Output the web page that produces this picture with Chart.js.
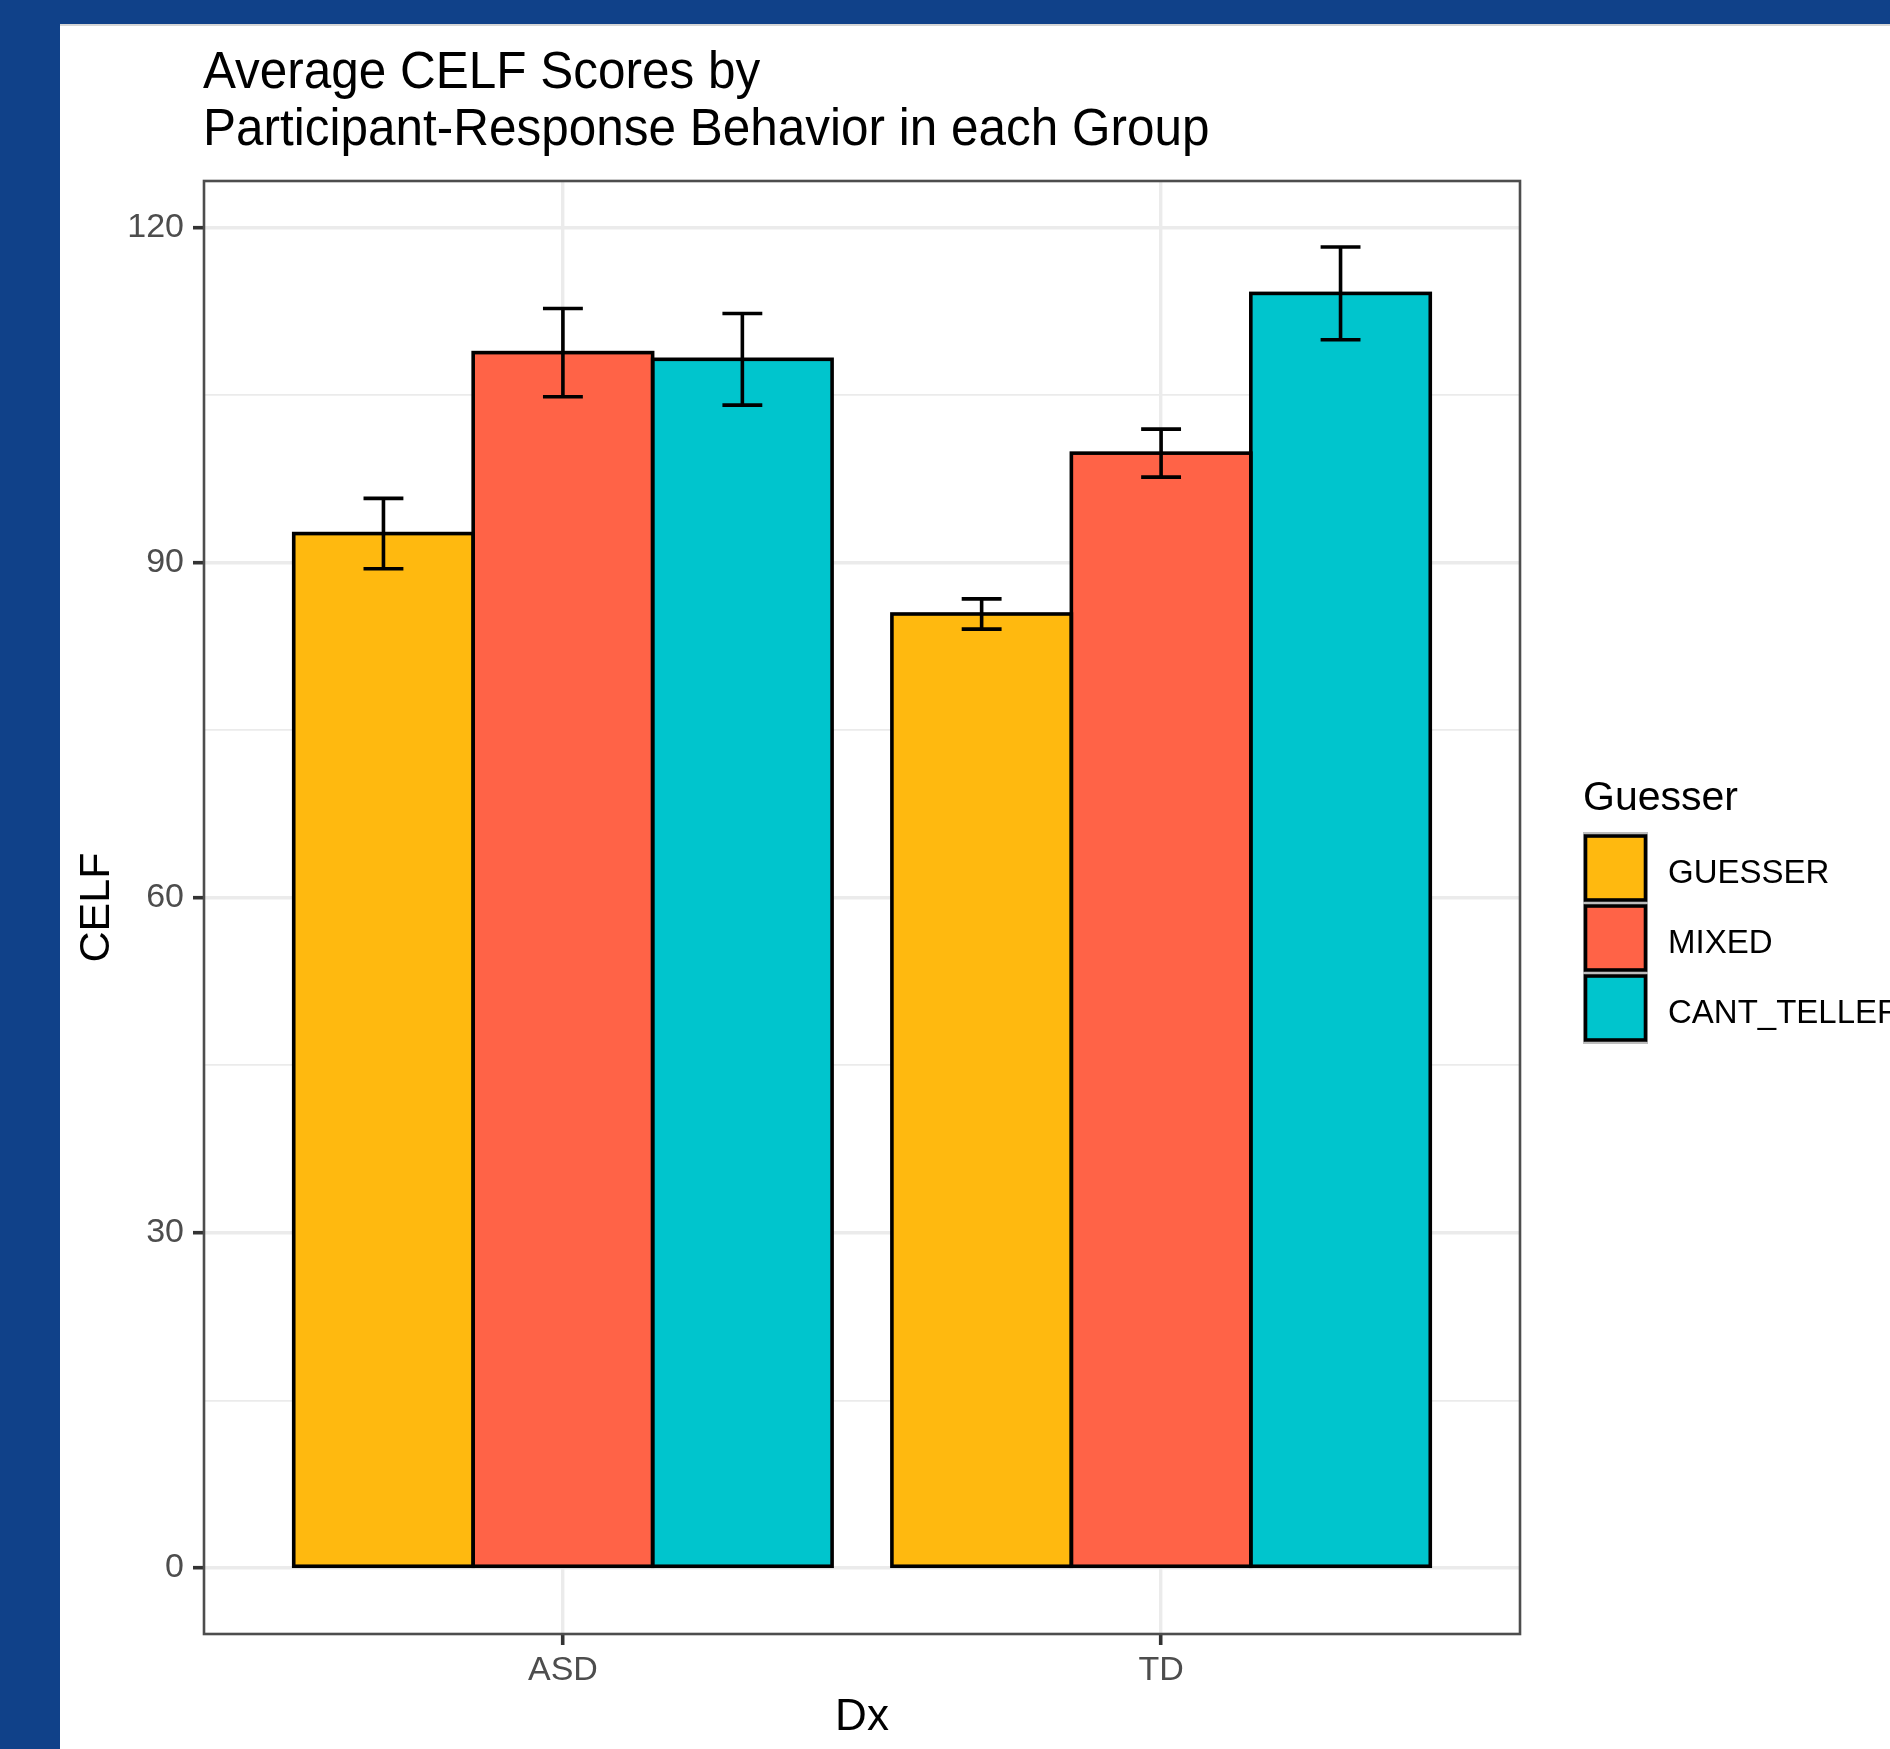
<!DOCTYPE html>
<html>
<head>
<meta charset="utf-8">
<script src="https://cdn.jsdelivr.net/npm/chart.js@4.4.1/dist/chart.umd.min.js"></script>
<style>
  html, body { margin: 0; padding: 0; width: 1890px; height: 1749px; overflow: hidden; background: #104189; }
  #sheet { position: absolute; left: 60px; top: 24px; width: 1830px; height: 1725px; background: #ffffff; }
  #edge { position: absolute; left: 60px; top: 24px; width: 1830px; height: 2px; background: #D6D6D6; z-index: 2; }
  #plot { position: absolute; left: 0; top: 0; }
</style>
</head>
<body>
<div id="sheet"><canvas id="plot" width="1830" height="1725"></canvas></div>
<div id="edge"></div>
<script>
// Diagnosis groups on the x axis
const groups = ['ASD', 'TD'];
const groupPositions = [1, 2];

// Response-behaviour series (legend order)
const seriesNames = ['GUESSER', 'MIXED', 'CANT_TELLER'];
const seriesColors = ['#FFB90F', '#FF6347', '#00C5CD'];

// Mean CELF score per group
const guesserMean = [92.6, 85.4];
const mixedMean = [108.8, 99.8];
const cantTellerMean = [108.2, 114.1];

// Standard error per group
const guesserSE = [3.15, 1.35];
const mixedSE = [3.95, 2.15];
const cantTellerSE = [4.1, 4.15];

// Y axis ticks
const yMajorTicks = [0, 30, 60, 90, 120];
const yMinorTicks = [15, 45, 75, 105];

const titleLines = ['Average CELF Scores by', 'Participant-Response Behavior in each Group'];
const xTitle = 'Dx';
const yTitle = 'CELF';
const legendTitle = 'Guesser';

const FONT = '"Liberation Sans", Arial, Helvetica, sans-serif';
Chart.defaults.font.family = FONT;

const means = [guesserMean, mixedMean, cantTellerMean];
const errors = [guesserSE, mixedSE, cantTellerSE];

// y range: data span plus 5% headroom, mirrored below zero
const yTop = Math.max(...means.flatMap((m, s) => m.map((v, g) => v + errors[s][g])));
const yPad = yTop * 0.05;

const datasets = seriesNames.map((name, s) => ({
  label: name,
  data: groupPositions.map((x, g) => ({ x: x, y: means[s][g] })),
  errors: errors[s],
  backgroundColor: seriesColors[s],
  borderWidth: 0,
  categoryPercentage: 0.9,
  barPercentage: 1.0
}));

// Bar outlines, error bars and the panel frame
const panelDecor = {
  id: 'panelDecor',
  afterDatasetsDraw(chart) {
    const ctx = chart.ctx;
    const yScale = chart.scales.y;
    ctx.save();
    ctx.strokeStyle = '#000000';
    ctx.lineWidth = 3.6;
    chart.data.datasets.forEach((ds, i) => {
      chart.getDatasetMeta(i).data.forEach(bar => {
        const p = bar.getProps(['x', 'y', 'base', 'width'], true);
        ctx.strokeRect(p.x - p.width / 2, p.y, p.width, p.base - p.y);
      });
    });
    ctx.lineWidth = 3.6;
    ctx.lineCap = 'butt';
    chart.data.datasets.forEach((ds, i) => {
      chart.getDatasetMeta(i).data.forEach((bar, j) => {
        const p = bar.getProps(['x', 'width'], true);
        const v = ds.data[j].y, e = ds.errors[j];
        const hi = yScale.getPixelForValue(v + e);
        const lo = yScale.getPixelForValue(v - e);
        const half = p.width * (2 / 9) / 2;
        ctx.beginPath();
        ctx.moveTo(p.x, hi); ctx.lineTo(p.x, lo);
        ctx.moveTo(p.x - half, hi); ctx.lineTo(p.x + half, hi);
        ctx.moveTo(p.x - half, lo); ctx.lineTo(p.x + half, lo);
        ctx.stroke();
      });
    });
    const a = chart.chartArea;
    ctx.strokeStyle = '#4D4D4D';
    ctx.lineWidth = 2.6;
    ctx.strokeRect(a.left, a.top, a.right - a.left, a.bottom - a.top);
    ctx.restore();
  }
};

// Two-line title and the fill legend on the right
const annotations = {
  id: 'annotations',
  afterDraw(chart) {
    const ctx = chart.ctx;
    const a = chart.chartArea;
    ctx.save();
    ctx.fillStyle = '#000000';
    ctx.textAlign = 'left';
    ctx.textBaseline = 'alphabetic';
    ctx.font = '51px ' + FONT;
    const baselines = [64, 121];
    titleLines.forEach((line, k) => {
      ctx.save();
      ctx.translate(a.left - 1, baselines[k]);
      ctx.scale(0.97, 1);
      ctx.fillText(line, 0, 0);
      ctx.restore();
    });

    const lx = a.right + 63;
    ctx.font = '41px ' + FONT;
    ctx.fillText(legendTitle, lx, 786);

    const keyTop = 809;
    const pitch = 70;
    chart.data.datasets.forEach((ds, i) => {
      const cy = keyTop + i * pitch;
      ctx.strokeStyle = '#BDBDBD';
      ctx.lineWidth = 2;
      ctx.strokeRect(lx + 1, cy, 63, pitch);
      ctx.fillStyle = ds.backgroundColor;
      ctx.fillRect(lx + 2.5, cy + 3, 60, 64);
      ctx.strokeStyle = '#000000';
      ctx.lineWidth = 3.6;
      ctx.strokeRect(lx + 2.5, cy + 3, 60, 64);
      ctx.fillStyle = '#000000';
      ctx.font = '33px ' + FONT;
      ctx.fillText(ds.label, lx + 85, cy + 50);
    });
    ctx.restore();
  }
};

new Chart(document.getElementById('plot'), {
  type: 'bar',
  data: { datasets: datasets },
  options: {
    responsive: false,
    animation: false,
    events: [],
    layout: { padding: { top: 157, right: 370, bottom: 0, left: 0 } },
    plugins: { legend: { display: false }, title: { display: false }, tooltip: { enabled: false } },
    scales: {
      x: {
        type: 'linear',
        min: 0.4,
        max: 2.6,
        offset: false,
        afterBuildTicks: s => { s.ticks = groupPositions.map(v => ({ value: v })); },
        afterFit: s => { s.height = 115; },
        border: { display: false },
        grid: {
          offset: false,
          color: '#EBEBEB',
          lineWidth: 3.4,
          tickColor: '#333333',
          tickWidth: 3.6,
          tickLength: 11
        },
        ticks: {
          autoSkip: false,
          maxRotation: 0,
          padding: 5,
          color: '#4D4D4D',
          font: { size: 34 },
          callback: v => groups[groupPositions.indexOf(v)] ?? ''
        },
        title: {
          display: true,
          text: xTitle,
          color: '#000000',
          font: { size: 44 },
          padding: { top: 0, bottom: 5 }
        }
      },
      y: {
        type: 'linear',
        min: -yPad,
        max: yTop + yPad,
        afterBuildTicks: s => {
          s.ticks = [...yMajorTicks, ...yMinorTicks].sort((p, q) => p - q).map(v => ({ value: v }));
        },
        afterFit: s => { s.width = 144; },
        border: { display: false },
        grid: {
          color: '#EBEBEB',
          lineWidth: c => (yMajorTicks.includes(c.tick.value) ? 3.4 : 1.7),
          tickColor: c => (yMajorTicks.includes(c.tick.value) ? '#333333' : 'rgba(0,0,0,0)'),
          tickWidth: 3.6,
          tickLength: 11
        },
        ticks: {
          autoSkip: false,
          padding: 9,
          color: '#4D4D4D',
          font: { size: 34 },
          callback: v => (yMajorTicks.includes(v) ? String(v) : '')
        },
        title: {
          display: true,
          text: yTitle,
          color: '#000000',
          font: { size: 43 },
          padding: { top: 11, bottom: 0 }
        }
      }
    }
  },
  plugins: [panelDecor, annotations]
});
</script>
</body>
</html>
